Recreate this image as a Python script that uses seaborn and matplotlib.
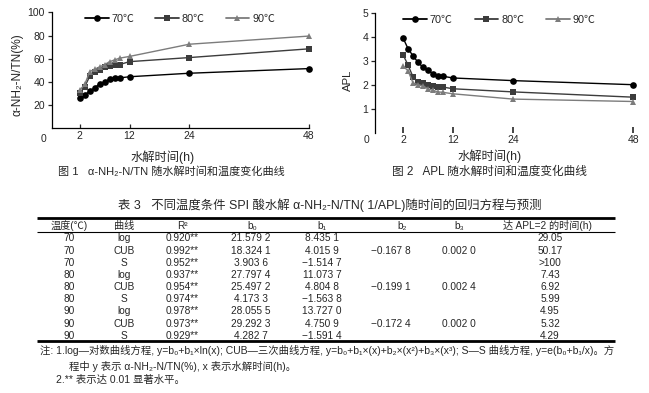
import numpy as np
import pandas as pd
import matplotlib
matplotlib.use("Agg")
import matplotlib.pyplot as plt
import seaborn as sns
from matplotlib.lines import Line2D

# ---------------- data ----------------
hours = [2, 3, 4, 5, 6, 7, 8, 9, 10, 12, 24, 48]
temps = ["70℃", "80℃", "90℃"]
nh2_70 = [26, 29, 32, 35, 38.5, 40, 42.5, 43, 43.5, 44.5, 47.5, 51.5]
nh2_80 = [30.5, 36, 45, 48.5, 50.5, 52.5, 54, 55, 55, 57.5, 61, 68.5]
nh2_90 = [33, 38, 49, 51, 53, 55, 57.5, 59, 60.5, 62, 72.5, 79.5]
apl_70 = [3.95, 3.5, 3.2, 2.93, 2.72, 2.6, 2.45, 2.36, 2.35, 2.28, 2.17, 2.0]
apl_80 = [3.25, 2.82, 2.32, 2.1, 2.08, 2.0, 1.95, 1.9, 1.9, 1.83, 1.7, 1.48]
apl_90 = [2.78, 2.58, 2.07, 2.0, 1.95, 1.83, 1.76, 1.7, 1.68, 1.62, 1.4, 1.3]
x_ticks = [2, 12, 24, 48]
y1_ticks = [20, 40, 60, 80, 100]
y2_ticks = [1, 2, 3, 4, 5]

tbl_headers = ["温度(℃)", "曲线", "R²", "b₀", "b₁", "b₂", "b₃", "达 APL=2 的时间(h)"]
tbl_temp = ["70", "70", "70", "80", "80", "80", "90", "90", "90"]
tbl_curve = ["log", "CUB", "S", "log", "CUB", "S", "log", "CUB", "S"]
tbl_r2 = ["0.920**", "0.992**", "0.952**", "0.937**", "0.954**", "0.974**", "0.978**", "0.973**", "0.929**"]
tbl_b0 = ["21.579 2", "18.324 1", "3.903 6", "27.797 4", "25.497 2", "4.173 3", "28.055 5", "29.292 3", "4.282 7"]
tbl_b1 = ["8.435 1", "4.015 9", "−1.514 7", "11.073 7", "4.804 8", "−1.563 8", "13.727 0", "4.750 9", "−1.591 4"]
tbl_b2 = ["", "−0.167 8", "", "", "−0.199 1", "", "", "−0.172 4", ""]
tbl_b3 = ["", "0.002 0", "", "", "0.002 4", "", "", "0.002 0", ""]
tbl_t2 = ["29.05", "50.17", ">100", "7.43", "6.92", "5.99", "4.95", "5.32", "4.29"]

cap1 = "图 1   α-NH₂-N/TN 随水解时间和温度变化曲线"
cap2 = "图 2   APL 随水解时间和温度变化曲线"
xlab = "水解时间(h)"
ylab1 = "α-NH₂-N/TN(%)"
ylab2 = "APL"
tbl_title = "表 3   不同温度条件 SPI 酸水解 α-NH₂-N/TN( 1/APL)随时间的回归方程与预测"
notes = [
    "注: 1.log—对数曲线方程, y=b₀+b₁×ln(x); CUB—三次曲线方程, y=b₀+b₁×(x)+b₂×(x²)+b₃×(x³); S—S 曲线方程, y=e(b₀+b₁/x)。方",
    "程中 y 表示 α-NH₂-N/TN(%), x 表示水解时间(h)。",
    "2.** 表示达 0.01 显著水平。",
]

# ---------------- style ----------------
sns.set_style("ticks")
FAM = ["Liberation Sans", "Noto Sans CJK SC", "DejaVu Sans"]
plt.rcParams["font.family"] = FAM
plt.rcParams["axes.unicode_minus"] = False

colors = ["#000000", "#3c3c3c", "#7c7c7c"]
marks = ["o", "s", "^"]

W, H = 649, 393
fig = plt.figure(figsize=(W / 100, H / 100), dpi=100)


def px_axes(l, t, r, b, **kw):
    return fig.add_axes([l / W, 1 - b / H, (r - l) / W, (b - t) / H], **kw)


over = px_axes(0, 0, W, H, zorder=-1)
over.set_xlim(0, W)
over.set_ylim(H, 0)
over.axis("off")

ax1 = px_axes(52, 12.3, 308.5, 128.4)
ax2 = px_axes(375, 12.7, 633.3, 132.7)

df1 = pd.DataFrame({"h": hours * 3, "v": nh2_70 + nh2_80 + nh2_90,
                    "T": np.repeat(temps, len(hours))})
df2 = pd.DataFrame({"h": hours * 3, "v": apl_70 + apl_80 + apl_90,
                    "T": np.repeat(temps, len(hours))})

for ax, df, ylim, yt in [(ax1, df1, (0, 100), y1_ticks), (ax2, df2, (0, 5), y2_ticks)]:
    sns.lineplot(data=df, x="h", y="v", hue="T", style="T", markers=marks,
                 dashes=False, palette=colors, ax=ax, legend=False,
                 linewidth=1.0, markersize=4.8, markeredgewidth=0, clip_on=False)
    ax.set_xlim(-3.6, 48)
    ax.set_ylim(*ylim)
    ax.set_xticks(x_ticks)
    ax.set_yticks(yt)
    ax.set_xlabel("")
    ax.set_ylabel("")
    for s in ["top", "right"]:
        ax.spines[s].set_visible(False)
    for s in ["left", "bottom"]:
        ax.spines[s].set_linewidth(0.9)
        ax.spines[s].set_color("black")
    ax.tick_params(axis="x", direction="in", length=3, width=0.9, pad=2, labelsize=7.5)
    ax.tick_params(axis="y", direction="out", length=3, width=0.9, pad=2, labelsize=7.5)
    ax.patch.set_alpha(0)

ax2.spines["bottom"].set_visible(False)
ax2.tick_params(axis="x", length=4, width=1.2)

handles = [Line2D([], [], color=c, marker=m, markersize=4.8, lw=1.3, mew=0)
           for c, m in zip(colors, marks)]
ax1.legend(handles, temps, loc="center left", bbox_to_anchor=(80 / W, 1 - 19 / H),
           bbox_transform=fig.transFigure, ncol=3, frameon=False, fontsize=7.8,
           handlelength=2.2, handletextpad=0.25, columnspacing=1.9, borderpad=0)
ax2.legend(handles, temps, loc="center left", bbox_to_anchor=(398 / W, 1 - 20 / H),
           bbox_transform=fig.transFigure, ncol=3, frameon=False, fontsize=7.8,
           handlelength=2.2, handletextpad=0.25, columnspacing=2.0, borderpad=0)

# extra "0" labels, axis titles, captions
over.text(43.5, 139, "0", ha="center", va="center", fontsize=7.5)
over.text(367, 140, "0", ha="center", va="center", fontsize=7.5)
over.text(18, 75, ylab1, rotation=90, ha="center", va="center", fontsize=8.6)
over.text(348, 80, ylab2, rotation=90, ha="center", va="center", fontsize=8.2)
over.text(163, 157, xlab, ha="center", va="center", fontsize=8.8)
over.text(490, 156, xlab, ha="center", va="center", fontsize=8.8)
over.text(171, 171, cap1, ha="center", va="center", fontsize=8)
over.text(489, 172, cap2, ha="center", va="center", fontsize=8.4)

# ---------------- table ----------------
over.text(118, 205, tbl_title, ha="left", va="center", fontsize=8.9)
over.plot([37, 615], [218, 218], color="black", lw=2.0, solid_capstyle="butt")
over.plot([37, 615], [232.3, 232.3], color="black", lw=0.8, solid_capstyle="butt")
over.plot([37, 615], [340.8, 340.8], color="black", lw=2.0, solid_capstyle="butt")

head_x = [69, 124, 182, 252, 322, 402, 459, 547]
col_x = [69, 124, 182, 251, 322, 391, 459, 550]
for hx, h in zip(head_x, tbl_headers):
    over.text(hx, 225.7, h, ha="center", va="center", fontsize=7.3)
cols = [tbl_temp, tbl_curve, tbl_r2, tbl_b0, tbl_b1, tbl_b2, tbl_b3, tbl_t2]
for i in range(len(tbl_temp)):
    y = 238.3 + 12.2 * i
    for cx, col in zip(col_x, cols):
        if col[i]:
            over.text(cx, y, col[i], ha="center", va="center", fontsize=7.3)

over.text(40, 350.7, notes[0], ha="left", va="center", fontsize=7.45)
over.text(69, 366.3, notes[1], ha="left", va="center", fontsize=7.45)
over.text(56, 379.7, notes[2], ha="left", va="center", fontsize=7.45)

fig.savefig("out.png", dpi=100)
